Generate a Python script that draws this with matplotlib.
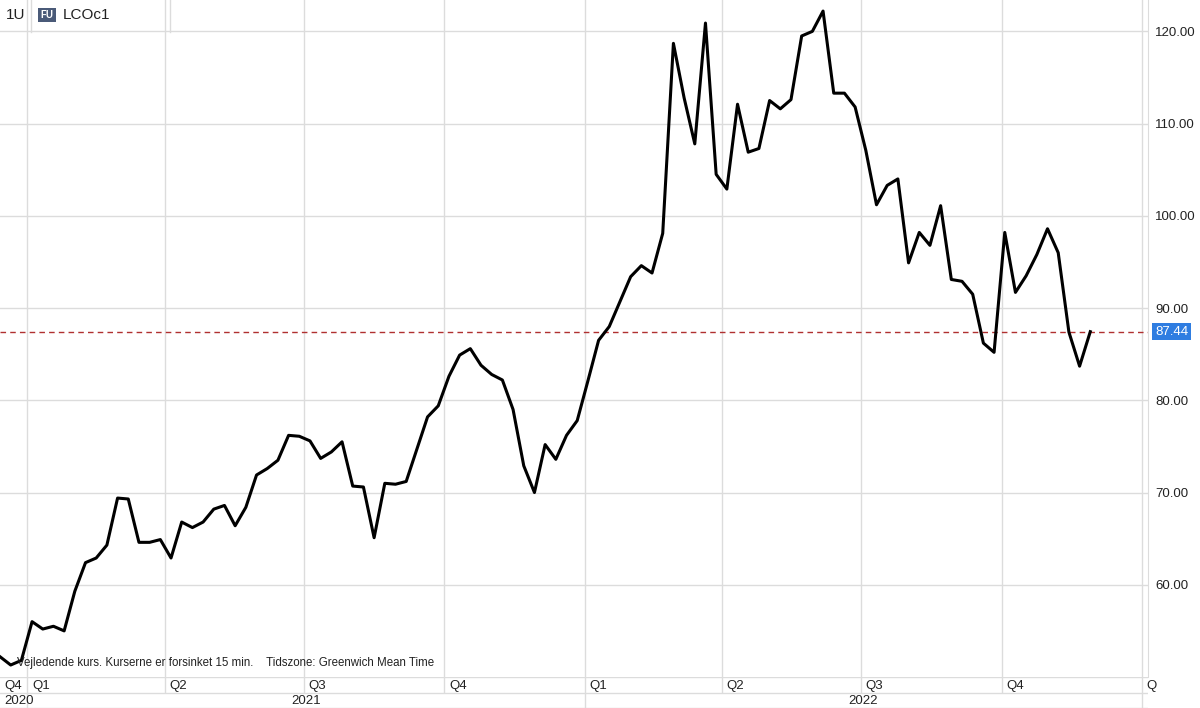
import matplotlib
matplotlib.use("Agg")
import matplotlib.pyplot as plt
import matplotlib.dates as mdates
import numpy as np
import datetime as dt

plt.rcParams['font.family'] = ['Liberation Sans', 'DejaVu Sans']

start_date = "2020-12-14"
prices = [52.2, 51.3, 51.8, 56.0, 55.2, 55.5, 55.0, 59.3, 62.4, 62.9, 64.3, 69.4, 69.3,
          64.6, 64.6, 64.9, 62.9, 66.8, 66.2, 66.8, 68.2, 68.6, 66.4, 68.4, 71.9, 72.6,
          73.5, 76.2, 76.1, 75.6, 73.7, 74.4, 75.5, 70.7, 70.6, 65.1, 71.0, 70.9, 71.2,
          74.7, 78.2, 79.4, 82.6, 84.9, 85.6, 83.8, 82.8, 82.2, 79.0, 72.9, 70.0, 75.2,
          73.6, 76.2, 77.8, 82.1, 86.5, 88.0, 90.7, 93.4, 94.6, 93.8, 98.1, 118.7, 112.8,
          107.8, 120.9, 104.5, 102.9, 112.1, 106.9, 107.3, 112.5, 111.6, 112.6, 119.5,
          120.0, 122.2, 113.3, 113.3, 111.8, 107.1, 101.2, 103.3, 104.0, 94.9, 98.2, 96.8,
          101.1, 93.1, 92.9, 91.5, 86.2, 85.2, 98.2, 91.7, 93.5, 95.8, 98.6, 96.0, 87.4,
          83.7, 87.44]
last_price = 87.44
y_ticks = [60, 70, 80, 90, 100, 110, 120]
quarter_labels = ["Q4", "Q1", "Q2", "Q3", "Q4", "Q1", "Q2", "Q3", "Q4", "Q"]
quarter_starts = ["2020-10-01", "2021-01-01", "2021-04-01", "2021-07-01", "2021-10-01",
                  "2022-01-01", "2022-04-01", "2022-07-01", "2022-10-01", "2023-01-01"]
year_labels = ["2020", "2021", "2022"]

d0 = dt.date.fromisoformat(start_date)
dates = [d0 + dt.timedelta(weeks=i) for i in range(len(prices))]
xd = mdates.date2num(dates)
x0 = mdates.date2num(d0)
px_per_day = 1.527
x1 = x0 + 1148 / px_per_day

W, H = 1200, 708
fig = plt.figure(figsize=(12, 7.08), dpi=100)
ax = fig.add_axes([0, 31/H, 1148/W, 1 - 31/H])
grid_c = '#dcdcdc'
ax.plot(xd, prices, color='black', lw=2.2, zorder=3)
ax.axhline(last_price, color='#b03030', lw=1, ls=(0, (4, 3)), zorder=2)
ax.set_xlim(x0, x1)
ax.set_ylim(50.0, 123.4)
ax.yaxis.tick_right()
ax.set_yticks(y_ticks)
ax.set_yticklabels([f"{v:.2f}" for v in y_ticks], fontsize=9.5, color='#222222')
ax.tick_params(axis='y', length=0, pad=5)
ax.set_xticks([])
qnums = [mdates.date2num(dt.date.fromisoformat(q)) for q in quarter_starts]
for q in qnums[1:]:
    ax.axvline(q, color=grid_c, lw=1, zorder=1)
for v in y_ticks:
    ax.axhline(v, color=grid_c, lw=1, zorder=1)
for s in ['top', 'left', 'bottom']:
    ax.spines[s].set_visible(False)
ax.spines['right'].set_color(grid_c)
ax.text(1.006, last_price, f"{last_price:.2f}", transform=ax.get_yaxis_transform(),
        fontsize=9.5, color='white', va='center', ha='left',
        bbox=dict(boxstyle='square,pad=0.2', fc='#2f7de1', ec='none'))
ax.text(0.015, 0.012, "Vejledende kurs. Kurserne er forsinket 15 min.    Tidszone: Greenwich Mean Time",
        transform=ax.transAxes, fontsize=8.3, color='#222222', va='bottom')

# header
fig.text(6/W, 1 - 15/H, "1U", fontsize=11, va='center', color='#222222')
fig.add_artist(plt.Line2D([31/W, 31/W], [1 - 32/H, 1], color=grid_c, lw=1))
fig.add_artist(plt.Line2D([170/W, 170/W], [1 - 32/H, 1], color=grid_c, lw=1))
fig.text(47/W, 1 - 15/H, "FU", fontsize=7, color='white', weight='bold', va='center', ha='center',
         bbox=dict(boxstyle='square,pad=0.25', fc='#4a5a78', ec='none'))
fig.text(63/W, 1 - 15/H, "LCOc1", fontsize=11, color='#222222', va='center')

# quarter and year rows
axq = fig.add_axes([0, 15/H, 1148/W, 16/H], sharex=ax)
axy = fig.add_axes([0, 0, 1148/W, 15/H], sharex=ax)
for a in (axq, axy):
    a.set_ylim(0, 1)
    a.set_yticks([]); a.tick_params(axis='x', length=0, labelbottom=False)
    for s in a.spines.values():
        s.set_visible(False)
    a.axhline(1, color=grid_c, lw=1)
    a.axhline(0, color=grid_c, lw=1)
axq.set_xlim(x0, x1)
for q, lab in zip(qnums, quarter_labels):
    if q > x0:
        axq.axvline(q, color=grid_c, lw=1)
    axq.text(max(q, x0) + 3, 0.45, lab, fontsize=9.5, va='center', ha='left', color='#222222')
years = [mdates.date2num(dt.date(y, 1, 1)) for y in (2021, 2022, 2023)]
for y in years:
    axy.axvline(y, color=grid_c, lw=1)
axy.text(x0 + 3, 0.45, year_labels[0], fontsize=9.5, va='center', color='#222222')
axy.text((years[0] + years[1]) / 2, 0.45, year_labels[1], fontsize=9.5, va='center', ha='center', color='#222222')
axy.text((years[1] + years[2]) / 2, 0.45, year_labels[2], fontsize=9.5, va='center', ha='center', color='#222222')

fig.savefig("out.png", dpi=100, facecolor='white')
